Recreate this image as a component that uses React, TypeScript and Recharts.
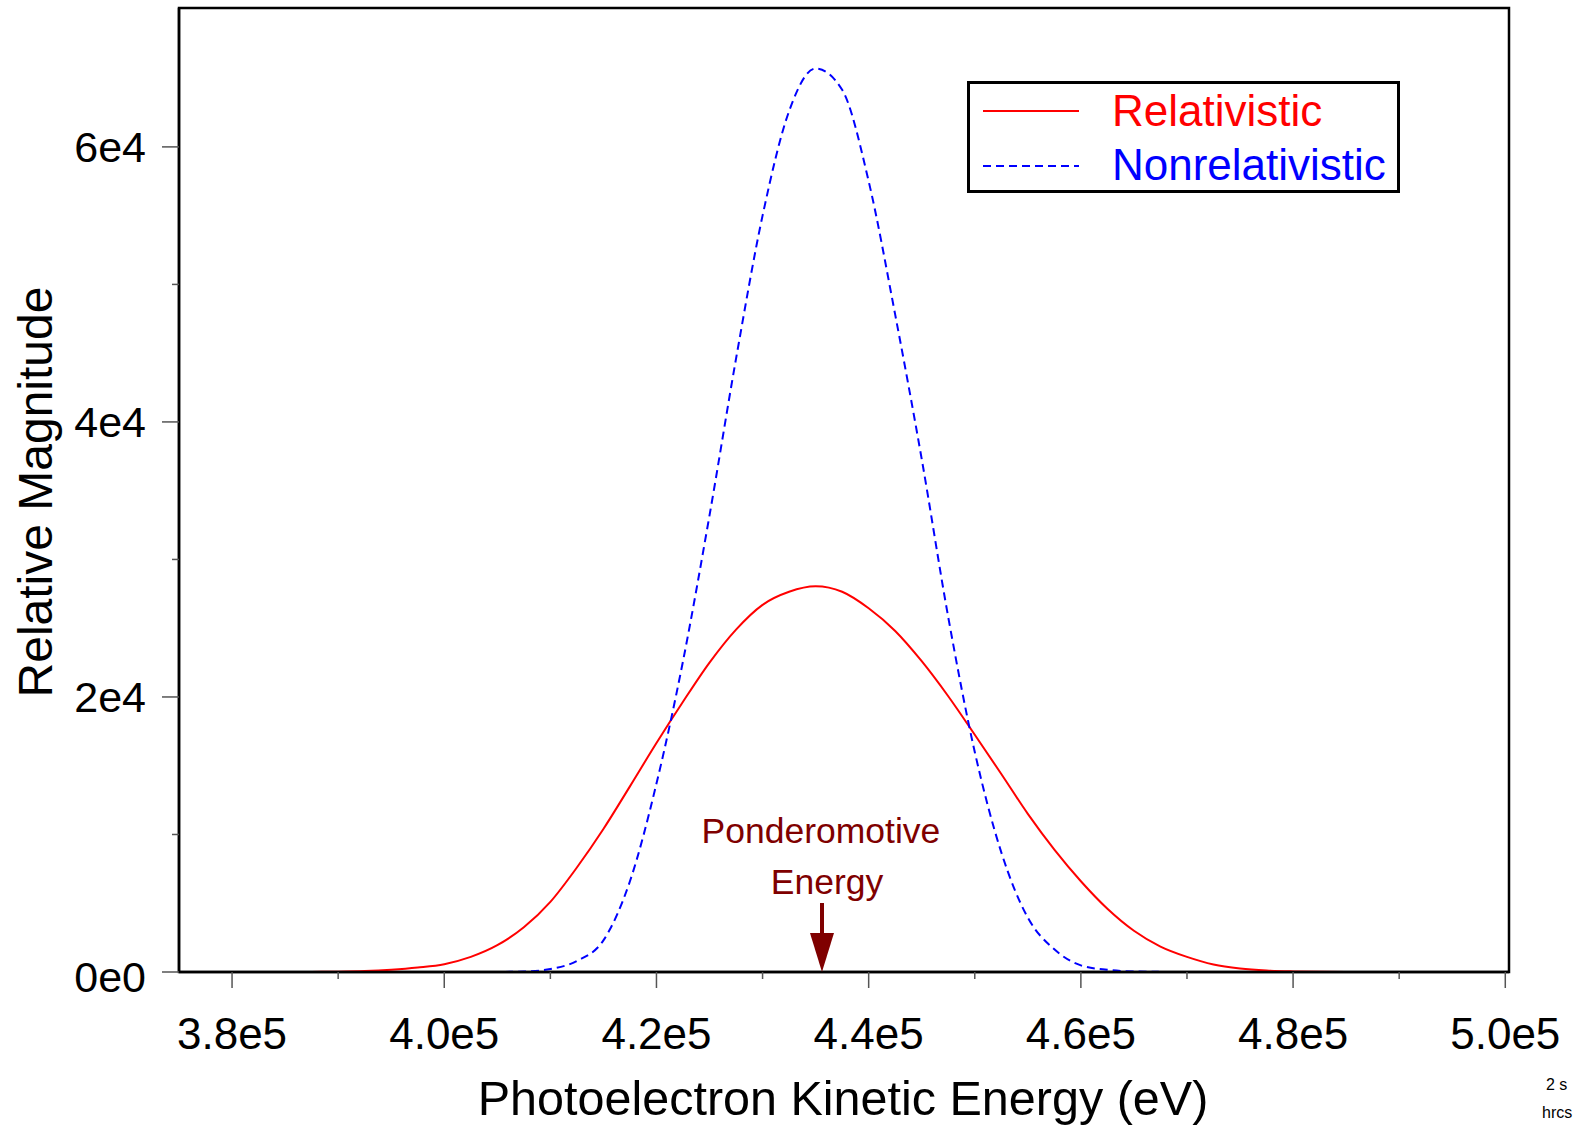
import React from 'react'
import { LineChart, Line, XAxis, YAxis, Legend, ReferenceArea, ReferenceDot } from 'recharts'

const FONT = '"Liberation Sans", Arial, Helvetica, sans-serif'

// photoelectron kinetic energy (eV)
const energies = [
  380000, 382500, 385000, 387500, 390000, 392500, 395000, 397500, 400000, 402500,
  405000, 407500, 410000, 412500, 415000, 417500, 420000, 422500, 425000, 427500,
  430000, 432500, 435000, 437500, 440000, 442500, 445000, 447500, 450000, 452500,
  455000, 457500, 460000, 462500, 465000, 467500, 470000, 472500, 475000, 477500,
  480000, 482500, 485000, 487500, 490000,
]

const relativistic = [
  0, 0, 2, 8, 25, 70, 170, 330, 570, 1100,
  1950, 3250, 5100, 7600, 10400, 13500, 16650, 19650, 22500, 24900,
  26700, 27650, 28050, 27650, 26450, 24800, 22600, 20050, 17250, 14400,
  11500, 8900, 6600, 4600, 3000, 1850, 1100, 550, 260, 110,
  45, 15, 5, 0, 0,
]

const nonrelativistic = [
  0, 0, 0, 0, 0, 0, 0, 0, 0, 0,
  5, 30, 220, 800, 2300, 6600, 13700, 22600, 33200, 44600,
  55000, 62600, 65700, 64150, 57500, 47800, 37300, 25800, 16000, 8700,
  3950, 1650, 480, 160, 40, 8, 0, 0, 0, 0,
  0, 0, 0, 0, 0,
]

const xTicks = [380000, 390000, 400000, 410000, 420000, 430000, 440000, 450000, 460000, 470000, 480000, 490000, 500000]
const xMajor = [380000, 400000, 420000, 440000, 460000, 480000, 500000]
const yTicks = [0, 10000, 20000, 30000, 40000, 50000, 60000]
const yMajor = [0, 20000, 40000, 60000]

const ponderomotiveEnergy = 435600

const series = [
  { key: 'rel', name: 'Relativistic', color: '#ff0000', dash: undefined as string | undefined },
  { key: 'nonrel', name: 'Nonrelativistic', color: '#0000ff', dash: '8 5' },
]

const data = energies.map((e, i) => ({ e, rel: relativistic[i], nonrel: nonrelativistic[i] }))

const fmtX = (v: number) => `${(v / 1e5).toFixed(1)}e5`
const fmtY = (v: number) => (v === 0 ? '0e0' : `${v / 1e4}e4`)

const XTick = ({ x, y, payload }: any) => {
  const major = xMajor.includes(payload.value)
  return (
    <g>
      <line x1={x} x2={x} y1={y} y2={y + (major ? 16 : 7)} stroke="#555" strokeWidth={1.5} />
      {major && (
        <text x={x} y={y + 77} textAnchor="middle" fontSize={44} fill="#000" fontFamily={FONT}>
          {fmtX(payload.value)}
        </text>
      )}
    </g>
  )
}

const YTick = ({ x, y, payload }: any) => {
  const major = yMajor.includes(payload.value)
  return (
    <g>
      <line x1={x - (major ? 17 : 7)} x2={x} y1={y} y2={y} stroke="#555" strokeWidth={1.5} />
      {major && (
        <text x={x - 33} y={y + 15 + (payload.value === 0 ? 5 : 0)} textAnchor="end" fontSize={43} fill="#000" fontFamily={FONT}>
          {fmtY(payload.value)}
        </text>
      )}
    </g>
  )
}

const YTitle = ({ viewBox }: any) => {
  const cx = viewBox.x + viewBox.width - 127
  const cy = viewBox.y + viewBox.height / 2 + 2
  return (
    <text x={cx} y={cy} transform={`rotate(-90 ${cx} ${cy})`} textAnchor="middle" fontSize={48} fill="#000" fontFamily={FONT}>
      Relative Magnitude
    </text>
  )
}

const XTitle = ({ viewBox }: any) => (
  <text x={viewBox.x + viewBox.width / 2 - 1} y={viewBox.y + 143} textAnchor="middle" fontSize={48.5} fill="#000" fontFamily={FONT}>
    Photoelectron Kinetic Energy (eV)
  </text>
)

const Arrow = ({ cx, cy }: any) => (
  <g fontFamily={FONT} fill="#7f0000">
    <text x={cx - 1} y={cy - 129} textAnchor="middle" fontSize={35.5}>Ponderomotive</text>
    <text x={cx + 5} y={cy - 78} textAnchor="middle" fontSize={35.5}>Energy</text>
    <line x1={cx} x2={cx} y1={cy - 69} y2={cy - 37} stroke="#7f0000" strokeWidth={4} />
    <path d={`M${cx - 12},${cy - 39} L${cx + 12},${cy - 39} L${cx},${cy} Z`} fill="#7f0000" />
  </g>
)

const LegendBox = () => (
  <svg width={433} height={112} style={{ display: 'block' }}>
    <rect x={1.5} y={1.5} width={430} height={109} fill="#fff" stroke="#000" strokeWidth={3} />
    {series.map((s, i) => (
      <g key={s.key}>
        <line x1={16} x2={112} y1={30 + i * 55} y2={30 + i * 55} stroke={s.color} strokeWidth={2} strokeDasharray={s.dash} />
        <text x={145} y={45 + i * 54} fill={s.color} fontSize={44} fontFamily={FONT}>{s.name}</text>
      </g>
    ))}
  </svg>
)

export default function App() {
  return (
    <div style={{ position: 'absolute', left: 0, top: 0, width: 1577, height: 1125, background: '#fff', overflow: 'hidden', fontFamily: FONT }}>
      <LineChart width={1577} height={1125} data={data} margin={{ top: 8, right: 68, left: 119, bottom: 93 }}>
        <ReferenceArea x1={375000} x2={500350} y1={0} y2={70100} fill="none" stroke="#000" strokeWidth={2.5} />
        <XAxis
          type="number"
          dataKey="e"
          domain={[375000, 500350]}
          allowDataOverflow
          ticks={xTicks}
          interval={0}
          height={60}
          tickSize={0}
          tickMargin={0}
          tickLine={false}
          tick={<XTick />}
          axisLine={{ stroke: '#000', strokeWidth: 2.5 }}
          label={<XTitle />}
        />
        <YAxis
          type="number"
          domain={[0, 70100]}
          allowDataOverflow
          ticks={yTicks}
          interval={0}
          width={60}
          tickSize={0}
          tickMargin={0}
          tickLine={false}
          tick={<YTick />}
          axisLine={{ stroke: '#000', strokeWidth: 2.5 }}
          label={<YTitle />}
        />
        {series.map((s) => (
          <Line
            key={s.key}
            type="monotone"
            dataKey={s.key}
            name={s.name}
            stroke={s.color}
            strokeWidth={2}
            strokeDasharray={s.dash}
            dot={false}
            activeDot={false}
            isAnimationActive={false}
          />
        ))}
        <ReferenceDot x={ponderomotiveEnergy} y={0} shape={<Arrow />} />
        <Legend
          layout="vertical"
          align="center"
          verticalAlign="middle"
          content={<LegendBox />}
          wrapperStyle={{ left: 967, top: 81, width: 433, height: 112 }}
        />
      </LineChart>
      <div style={{ position: 'absolute', left: 1546, top: 1076, fontSize: 16, whiteSpace: 'nowrap' }}>2 s</div>
      <div style={{ position: 'absolute', left: 1542, top: 1104, fontSize: 16, whiteSpace: 'nowrap' }}>hrcs</div>
    </div>
  )
}
